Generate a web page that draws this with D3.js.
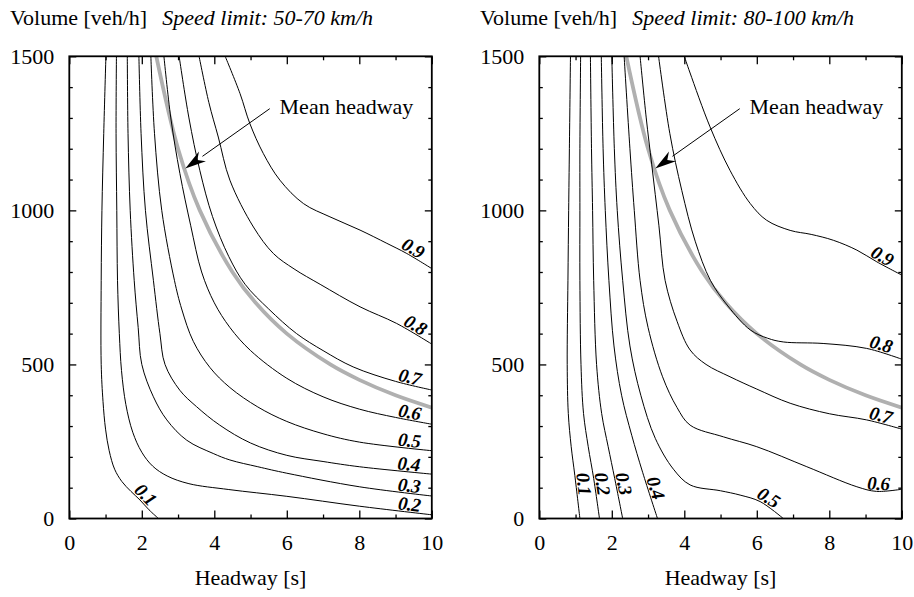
<!DOCTYPE html>
<html>
<head>
<meta charset="utf-8">
<script src="https://cdn.jsdelivr.net/npm/d3@7"></script>
<style>
	body { margin: 0; background: #fff; }
</style>
</head>
<body>
<div id="app"></div>
<script>

// axis ticks
const xTicks = [0, 2, 4, 6, 8, 10];
const xMinorTicks = [1, 3, 5, 7, 9];
const yTicks = [0, 500, 1000, 1500];
const yMinorTicks = [100, 200, 300, 400, 600, 700, 800, 900, 1100, 1200, 1300, 1400];

const levels = ['0.1', '0.2', '0.3', '0.4', '0.5', '0.6', '0.7', '0.8', '0.9'];

// mean headway curve [headway s, volume veh/h]
const meanHeadway = [[2.4, 1500], [3.0, 1200], [3.6, 1000], [4.5, 800], [5.14, 700], [6.0, 600], [7.2, 500], [8.0, 450], [9.0, 400], [10, 360]];

// contour lines, speed limit 50-70 km/h
const lines5070 = [
	[[1.01, 1500], [0.95, 1250], [0.9, 1000], [0.88, 773], [0.88, 500], [0.93, 380], [1.0, 290], [1.1, 220], [1.25, 160], [1.45, 120], [1.7, 88], [1.95, 60], [2.2, 28], [2.46, 0]],
	[[1.3, 1500], [1.29, 1250], [1.31, 1000], [1.33, 773], [1.38, 600], [1.44, 480], [1.56, 370], [1.75, 280], [2.0, 215], [2.3, 170], [2.7, 138], [3.3, 113], [4.4, 94], [6.0, 72], [8.0, 40], [10, 12]],
	[[1.6, 1500], [1.62, 1250], [1.68, 1000], [1.79, 773], [1.9, 620], [2.0, 500], [2.32, 395], [2.69, 320], [3.24, 254], [3.97, 211], [4.43, 190], [5.2, 168], [6.0, 147], [8.0, 103], [10, 73]],
	[[1.92, 1500], [1.98, 1250], [2.1, 1000], [2.32, 773], [2.5, 600], [2.64, 500], [3.05, 416], [3.51, 363], [4.15, 303], [5.0, 245], [6.0, 205], [7.0, 185], [8.0, 168], [10, 144]],
	[[2.25, 1500], [2.35, 1250], [2.55, 1000], [2.9, 773], [3.1, 680], [3.42, 575], [3.88, 490], [4.43, 425], [5.2, 362], [6.0, 315], [7.0, 275], [8.0, 248], [10, 220]],
	[[2.61, 1500], [2.8, 1300], [3.05, 1120], [3.35, 950], [3.65, 800], [4.0, 700], [4.43, 620], [5.0, 545], [6.0, 455], [7.0, 395], [8.0, 355], [9.0, 328], [10, 306]],
	[[3.03, 1500], [3.3, 1300], [3.6, 1130], [3.95, 980], [4.4, 850], [4.85, 760], [5.5, 680], [6.27, 600], [7.0, 545], [7.83, 492], [9.0, 445], [10, 417]],
	[[3.58, 1500], [3.85, 1350], [4.11, 1238], [4.43, 1098], [5.08, 946], [5.63, 860], [6.2, 810], [6.92, 760], [8.02, 687], [9.03, 633], [10, 566]],
	[[4.3, 1500], [4.71, 1379], [4.98, 1282], [5.35, 1185], [5.81, 1098], [6.46, 1022], [7.19, 979], [8.02, 936], [8.76, 893], [9.31, 860], [10, 811]]
];

// contour lines, speed limit 80-100 km/h
const lines80100 = [
	[[0.86, 1500], [0.83, 1200], [0.81, 1000], [0.79, 773], [0.77, 500], [0.8, 341], [0.88, 233], [0.98, 140], [1.12, 0]],
	[[1.14, 1500], [1.12, 1200], [1.12, 1000], [1.12, 773], [1.15, 500], [1.22, 341], [1.35, 233], [1.5, 130], [1.66, 0]],
	[[1.41, 1500], [1.44, 1200], [1.47, 1000], [1.5, 773], [1.58, 500], [1.72, 341], [1.9, 233], [2.08, 130], [2.3, 0]],
	[[1.71, 1500], [1.76, 1200], [1.82, 1000], [1.92, 773], [2.06, 560], [2.27, 400], [2.55, 270], [2.85, 150], [3.26, 0]],
	[[2.0, 1500], [2.07, 1200], [2.15, 1000], [2.3, 773], [2.5, 560], [2.8, 400], [3.2, 260], [3.7, 160], [4.16, 109], [5.0, 90], [5.54, 76], [6.09, 55], [6.73, 0]],
	[[2.34, 1500], [2.5, 1200], [2.62, 1000], [2.78, 773], [3.0, 620], [3.4, 460], [3.8, 360], [4.16, 303], [5.08, 265], [6.0, 233], [7.38, 168], [8.76, 103], [9.3, 88], [10, 95]],
	[[2.78, 1500], [2.95, 1300], [3.1, 1150], [3.3, 950], [3.47, 773], [3.8, 640], [4.16, 547], [4.6, 500], [5.26, 460], [6.0, 420], [6.92, 374], [8.0, 340], [9.03, 320], [10, 290]],
	[[3.29, 1500], [3.6, 1250], [3.93, 1065], [4.3, 900], [4.72, 773], [5.2, 690], [5.82, 612], [6.3, 585], [6.73, 573], [7.83, 568], [9.03, 552], [10, 517]],
	[[4.0, 1500], [4.15, 1449], [4.71, 1271], [5.26, 1130], [5.82, 1022], [6.27, 968], [6.92, 935], [7.5, 922], [8.11, 903], [8.76, 871], [9.31, 833], [10, 790]]
];

// where each level label sits on its line [headway, volume]
const labels5070 = [[1.95, 60], [9.35, 20], [9.35, 82], [9.35, 155], [9.35, 230], [9.35, 325], [9.35, 440], [9.35, 590], [9.35, 850]];
const labels80100 = [[1.05, 110], [1.55, 110], [2.15, 110], [2.95, 90], [6.2, 45], [9.35, 88], [9.35, 305], [9.35, 535], [9.35, 830]];

const speedLimits = ['Speed limit: 50-70 km/h', 'Speed limit: 80-100 km/h'];

// annotation of the mean headway curve
const arrowText = [5.8, 1314];
const arrowFrom = [5.53, 1330];
const arrowTo = [3.2, 1136];

const serif = "'Liberation Serif', 'Times New Roman', serif";

const chart = () => {

	const width = 914,
		height = 597,
		margin = { top: 56.3, left: 69.3 },
		plotW = 362.5,
		plotH = 462.2,
		panelGap = 470;

	const x = d3.scaleLinear().domain([0, 10]).range([0, plotW]);
	const y = d3.scaleLinear().domain([0, 1500]).range([plotH, 0]);

	const line = d3.line()
		.x(d => x(d[0]))
		.y(d => y(d[1]))
		.curve(d3.curveCatmullRom.alpha(0.5));

	const svg = d3.select('#app').append('svg')
		.attr('width', width)
		.attr('height', height)
		.attr('font-family', serif);

	svg.append('defs').append('clipPath')
		.attr('id', 'plot-clip')
	.append('rect')
		.attr('width', plotW)
		.attr('height', plotH);

	const addText = (g, size) => g.append('text')
		.style('font-family', serif)
		.style('font-size', size + 'px')
		.attr('fill', '#000');

	const placeLabel = (g, node, anchor, text) => {
		const total = node.getTotalLength(),
			ax = x(anchor[0]),
			ay = y(anchor[1]);
		let best = 0, bestD = Infinity;
		for (let l = 0; l <= total; l += 0.5) {
			const p = node.getPointAtLength(l),
				d = (p.x - ax) ** 2 + (p.y - ay) ** 2;
			if (d < bestD) { bestD = d; best = l; }
		}
		const p = node.getPointAtLength(best),
			p0 = node.getPointAtLength(Math.max(0, best - 8)),
			p1 = node.getPointAtLength(Math.min(total, best + 8));
		let angle = Math.atan2(p1.y - p0.y, p1.x - p0.x) * 180 / Math.PI;
		if (angle > 90) angle -= 180;
		if (angle <= -90) angle += 180;
		addText(g, 19)
			.attr('transform', `translate(${ p.x },${ p.y }) rotate(${ angle })`)
			.attr('dy', -1.5)
			.attr('text-anchor', 'middle')
			.style('font-style', 'italic')
			.style('font-weight', 'bold')
			.style('letter-spacing', '-0.5px')
			.text(text);
	};

	const drawPanel = (i, lines, labels) => {

		const g = svg.append('g')
			.attr('transform', `translate(${ margin.left + i * panelGap },${ margin.top })`);

		const plot = g.append('g')
			.attr('clip-path', 'url(#plot-clip)');

		plot.append('path')
			.datum(meanHeadway)
			.attr('d', line)
			.attr('fill', 'none')
			.attr('stroke', '#b0b0b0')
			.attr('stroke-width', 3.8);

		const paths = plot.selectAll('path.level')
			.data(lines)
			.enter()
			.append('path')
			.classed('level', true)
			.attr('d', line)
			.attr('fill', 'none')
			.attr('stroke', '#000')
			.attr('stroke-width', 1);

		paths.each(function (d, k) {
			placeLabel(g, this, labels[k], levels[k]);
		});

		// axes with inward ticks
		const noLabel = () => '';
		const axes = [
			d3.axisBottom(x).tickValues(xTicks).tickSizeInner(-8).tickPadding(16).tickFormat(d3.format('d')),
			d3.axisBottom(x).tickValues(xMinorTicks).tickSizeInner(-4).tickFormat(noLabel),
			d3.axisTop(x).tickValues(xTicks).tickSizeInner(-8).tickFormat(noLabel),
			d3.axisTop(x).tickValues(xMinorTicks).tickSizeInner(-4).tickFormat(noLabel),
			d3.axisLeft(y).tickValues(yTicks).tickSizeInner(-7).tickPadding(15).tickFormat(d3.format('d')),
			d3.axisLeft(y).tickValues(yMinorTicks).tickSizeInner(-3.5).tickFormat(noLabel),
			d3.axisRight(y).tickValues(yTicks).tickSizeInner(-7).tickFormat(noLabel),
			d3.axisRight(y).tickValues(yMinorTicks).tickSizeInner(-3.5).tickFormat(noLabel)
		];
		const offsets = ['0,' + plotH, '0,' + plotH, '0,0', '0,0', '0,0', '0,0', plotW + ',0', plotW + ',0'];
		axes.forEach((axis, k) => {
			const a = g.append('g')
				.attr('transform', `translate(${ offsets[k] })`)
				.call(axis.tickSizeOuter(0))
				.attr('font-family', serif)
				.attr('font-size', 22);
			a.select('.domain').remove();
			a.selectAll('line').attr('stroke', '#000').attr('stroke-width', 1.3);
			a.selectAll('text')
				.style('font-size', '22px')
				.style('font-family', serif);
		});

		g.append('rect')
			.attr('width', plotW)
			.attr('height', plotH)
			.attr('fill', 'none')
			.attr('stroke', '#000')
			.attr('stroke-width', 1.8);

		addText(g, 22)
			.attr('x', -59.3)
			.attr('y', -31)
			.text('Volume [veh/h]');

		addText(g, 22)
			.attr('x', 93)
			.attr('y', -31)
			.style('font-style', 'italic')
			.text(speedLimits[i]);

		addText(g, 22)
			.attr('x', plotW / 2)
			.attr('y', plotH + 66.5)
			.attr('text-anchor', 'middle')
			.text('Headway [s]');

		// mean headway call-out
		addText(g, 22)
			.attr('x', x(arrowText[0]))
			.attr('y', y(arrowText[1]))
			.text('Mean headway');

		const x0 = x(arrowFrom[0]), y0 = y(arrowFrom[1]),
			x1 = x(arrowTo[0]), y1 = y(arrowTo[1]),
			ang = Math.atan2(y1 - y0, x1 - x0),
			headLen = 21,
			headW = 6;
		const bx = x1 - headLen * Math.cos(ang),
			by = y1 - headLen * Math.sin(ang);

		g.append('line')
			.attr('x1', x0).attr('y1', y0)
			.attr('x2', bx).attr('y2', by)
			.attr('stroke', '#000')
			.attr('stroke-width', 1);

		g.append('path')
			.attr('d', `M${ x1 },${ y1 }L${ bx - headW * Math.sin(ang) },${ by + headW * Math.cos(ang) }L${ bx + 0.3 * headLen * Math.cos(ang) },${ by + 0.3 * headLen * Math.sin(ang) }L${ bx + headW * Math.sin(ang) },${ by - headW * Math.cos(ang) }Z`)
			.attr('fill', '#000');
	};

	drawPanel(0, lines5070, labels5070);
	drawPanel(1, lines80100, labels80100);
};

chart();

</script>
</body>
</html>
